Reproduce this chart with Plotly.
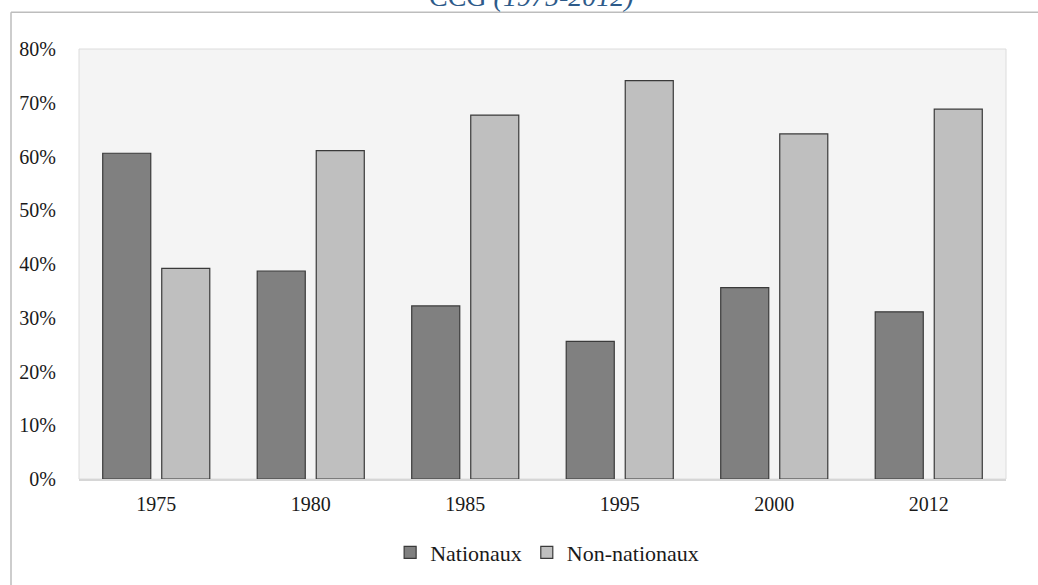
import plotly.graph_objects as go

years = ["1975", "1980", "1985", "1995", "2000", "2012"]
nationaux = [60.6, 38.7, 32.2, 25.6, 35.6, 31.1]
non_nationaux = [39.2, 61.1, 67.7, 74.1, 64.2, 68.8]
y_ticks = [0, 10, 20, 30, 40, 50, 60, 70, 80]
y_labels = [f"{v}%" for v in y_ticks]

FONT = "Liberation Serif"
W, H = 1038, 585
L, R, T, B = 79, 32, 49, 103
PW, PH = W - L - R, H - T - B

fig = go.Figure()
fig.add_trace(go.Bar(name="Nationaux", x=years, y=nationaux,
                     marker=dict(color="#808080", line=dict(color="#3a3a3a", width=1.2))))
fig.add_trace(go.Bar(name="Non-nationaux", x=years, y=non_nationaux,
                     marker=dict(color="#bfbfbf", line=dict(color="#3a3a3a", width=1.2))))

fig.update_layout(
    width=W, height=H,
    margin=dict(l=L, r=R, t=T, b=B),
    paper_bgcolor="white",
    plot_bgcolor="#f4f4f4",
    barmode="group",
    bargap=0.236,
    bargroupgap=0.186,
    font=dict(family=FONT, size=20, color="#1a1a1a"),
    showlegend=True,
    legend=dict(orientation="h", x=0.505, xanchor="center",
                y=(H - B - 556) / PH, yanchor="middle",
                font=dict(family=FONT, size=22, color="#1a1a1a"),
                itemwidth=30, bgcolor="rgba(0,0,0,0)"),
    xaxis=dict(showgrid=False, showline=True, linecolor="#d6d6d6", linewidth=2,
               mirror=False, ticks="", ticklabelstandoff=6,
               tickfont=dict(family=FONT, size=20)),
    yaxis=dict(range=[0, 80], tickvals=y_ticks, ticktext=y_labels,
               showgrid=False, zeroline=False, showline=False, ticks="",
               ticklabelstandoff=22, tickfont=dict(family=FONT, size=20)),
)

# plot-area border
fig.add_shape(type="rect", xref="paper", yref="paper", x0=0, y0=0, x1=1, y1=1,
              line=dict(color="#dcdcdc", width=1), layer="below")
# outer frame lines (left and top)
fx = (11 - L) / PW
fy = 1 + (T - 12) / PH
fig.add_shape(type="line", xref="paper", yref="paper", x0=fx, x1=fx, y0=fy, y1=-(B + 5) / PH,
              line=dict(color="#bdbdbd", width=1.5))
fig.add_shape(type="line", xref="paper", yref="paper", x0=fx, x1=(W + 5 - L) / PW, y0=fy, y1=fy,
              line=dict(color="#bdbdbd", width=1.5))

# partially visible title
fig.add_annotation(text="CCG <i>(1975-2012)</i>", xref="paper", yref="paper",
                   x=(531 - L) / PW, xanchor="center",
                   y=1 + (T - 14) / PH, yanchor="bottom", showarrow=False,
                   font=dict(family=FONT, size=28, color="#2e5b8a"))

fig.write_html("out.html", config={"displayModeBar": False},
               post_script="document.body.style.margin='0px';document.body.style.overflow='hidden';")
